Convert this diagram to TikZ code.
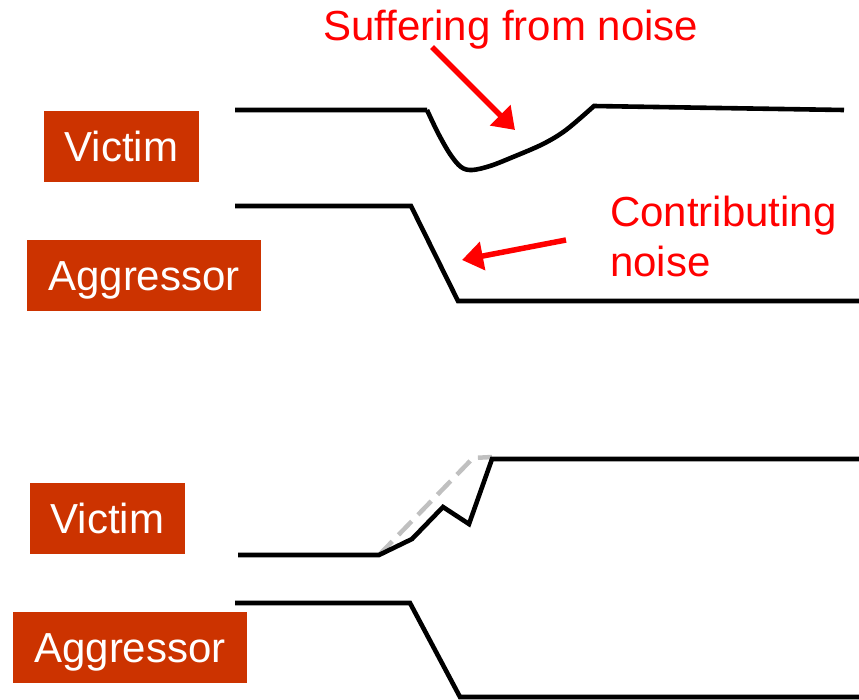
\documentclass[tikz,border=0pt]{standalone}
\usepackage{fontspec}
\setmainfont{Liberation Sans}
\usetikzlibrary{arrows.meta}
\definecolor{tagred}{RGB}{204,51,0}
\definecolor{ghost}{RGB}{192,192,192}
\begin{document}
\begin{tikzpicture}[x=1pt,y=-1pt,
  signal/.style={line width=4.6pt, black, line join=miter},
  tag/.style={fill=tagred, text=white, inner sep=0pt, font=\fontsize{42}{48}\selectfont,
              text height=30pt, text depth=0pt, anchor=center},
  note/.style={text=red, inner sep=0pt, font=\fontsize{42}{50}\selectfont, anchor=base west},
  pointer/.style={line width=5.5pt, red, -{Triangle[length=21pt,width=28pt]}}]
\useasboundingbox (0,0) rectangle (859,699);

% signal labels
\node[tag, minimum width=155pt, minimum height=71pt] (vicA) at (121.5,146.5) {Victim};
\node[tag, minimum width=234pt, minimum height=71pt] (aggA) at (144,275.5) {Aggressor};
\node[tag, minimum width=155pt, minimum height=71pt] (vicB) at (107.5,518.5) {Victim};
\node[tag, minimum width=234pt, minimum height=71pt] (aggB) at (130,647.5) {Aggressor};

% first case: victim glitch caused by falling aggressor
\draw[signal] (235,110) -- (427,110)
  plot[smooth, tension=0.55] coordinates {(427,110) (438,133) (450,154) (461,167) (472,170)
      (490,166) (513,157) (543,144) (566,130) (594,106)}
  -- (844,110);
\draw[signal] (235,206) -- (411,206) -- (458,301) -- (862,301);

% second case: delayed victim rise
\draw[ghost, line width=4.5pt, dash pattern=on 19pt off 9pt] (379,555) -- (473,458) -- (492,457);
\draw[signal] (238,555) -- (379,555) -- (412,539) -- (443,507) -- (469,524) -- (492,459) -- (862,459);
\draw[signal] (235,603) -- (410,603) -- (460,697) -- (862,697);

% annotations
\node[note] (suffer) at (323,40) {Suffering from noise};
\node[note, align=left] (contrib) at (610,276) {Contributing\\noise};
\coordinate (sufferFrom) at (432,47);
\coordinate (sufferTo) at (515,130);
\coordinate (contribFrom) at (566,240);
\coordinate (contribTo) at (462,260);
\draw[pointer] (sufferFrom) -- (sufferTo);
\draw[pointer] (contribFrom) -- (contribTo);
\end{tikzpicture}
\end{document}
